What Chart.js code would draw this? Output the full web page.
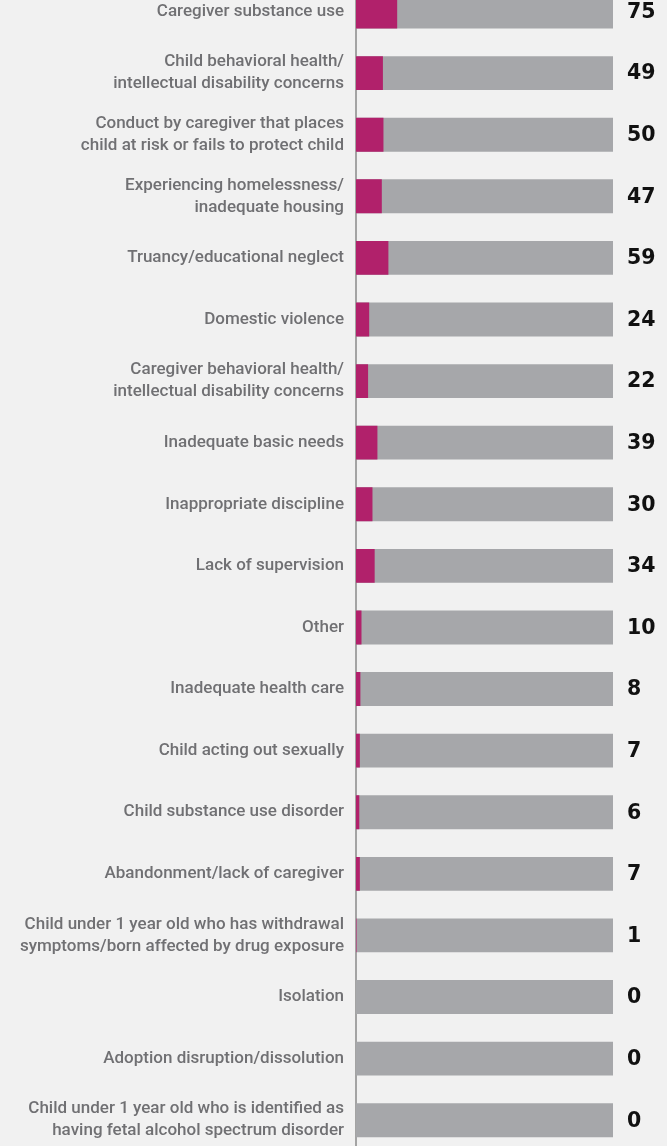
<!DOCTYPE html>
<html>
<head>
<meta charset="utf-8">
<script src="https://cdn.jsdelivr.net/npm/chart.js@4.4.1/dist/chart.umd.min.js"></script>
<style>
  html, body { margin: 0; padding: 0; background: #f1f1f1; overflow: hidden; width: 667px; height: 1146px; }
  #wrap { position: absolute; left: 0; top: -30px; width: 667px; height: 1200px; }
</style>
</head>
<body>
<div id="wrap"><canvas id="c" width="667" height="1200"></canvas></div>
<script>
const categories = [
  "Caregiver substance use",
  ["Child behavioral health/", "intellectual disability concerns"],
  ["Conduct by caregiver that places", "child at risk or fails to protect child"],
  ["Experiencing homelessness/", "inadequate housing"],
  "Truancy/educational neglect",
  "Domestic violence",
  ["Caregiver behavioral health/", "intellectual disability concerns"],
  "Inadequate basic needs",
  "Inappropriate discipline",
  "Lack of supervision",
  "Other",
  "Inadequate health care",
  "Child acting out sexually",
  "Child substance use disorder",
  "Abandonment/lack of caregiver",
  ["Child under 1 year old who has withdrawal", "symptoms/born affected by drug exposure"],
  "Isolation",
  "Adoption disruption/dissolution",
  ["Child under 1 year old who is identified as", "having fetal alcohol spectrum disorder"]
];
const values = [75, 49, 50, 47, 59, 24, 22, 39, 30, 34, 10, 8, 7, 6, 7, 1, 0, 0, 0];
const TOTAL = 468;
const totals = categories.map(() => TOTAL);

const labelPlugin = {
  id: 'labelPlugin',
  afterDatasetsDraw(chart) {
    const ctx = chart.ctx;
    const meta = chart.getDatasetMeta(0);
    ctx.save();
    // category labels
    ctx.font = '500 17px Roboto, sans-serif';
    ctx.fillStyle = '#707073';
    ctx.textAlign = 'right';
    ctx.textBaseline = 'middle';
    const lh = 22;
    meta.data.forEach((bar, i) => {
      const lab = categories[i];
      const lines = Array.isArray(lab) ? lab : [lab];
      const y0 = bar.y - (lines.length - 1) * lh / 2;
      lines.forEach((ln, k) => ctx.fillText(ln, 344, y0 + k * lh));
    });
    // value labels
    ctx.font = 'bold 20.5px "DejaVu Sans", sans-serif';
    ctx.fillStyle = '#111111';
    ctx.textAlign = 'left';
    meta.data.forEach((bar, i) => {
      ctx.fillText(String(values[i]), 627, bar.y + 1);
    });
    ctx.restore();
  }
};

new Chart(document.getElementById('c'), {
  type: 'bar',
  data: {
    labels: categories,
    datasets: [
      { data: values, backgroundColor: '#b1216b', order: 0, grouped: false,
        barPercentage: 0.55, categoryPercentage: 1.0 },
      { data: totals, backgroundColor: '#a6a7aa', order: 1, grouped: false,
        barPercentage: 0.55, categoryPercentage: 1.0 }
    ]
  },
  options: {
    indexAxis: 'y',
    responsive: false,
    animation: false,
    events: [],
    layout: { padding: { top: 10.7, bottom: 19, right: 54, left: 0 } },
    plugins: { legend: { display: false }, tooltip: { enabled: false } },
    scales: {
      x: {
        min: 0, max: TOTAL,
        display: false,
        grid: { display: false }
      },
      y: {
        grid: { display: false, drawTicks: false },
        border: { display: true, color: '#a3a3a3', width: 2 },
        ticks: { display: false },
        afterFit(scale) { scale.width = 356; }
      }
    }
  },
  plugins: [labelPlugin]
});
</script>
</body>
</html>
